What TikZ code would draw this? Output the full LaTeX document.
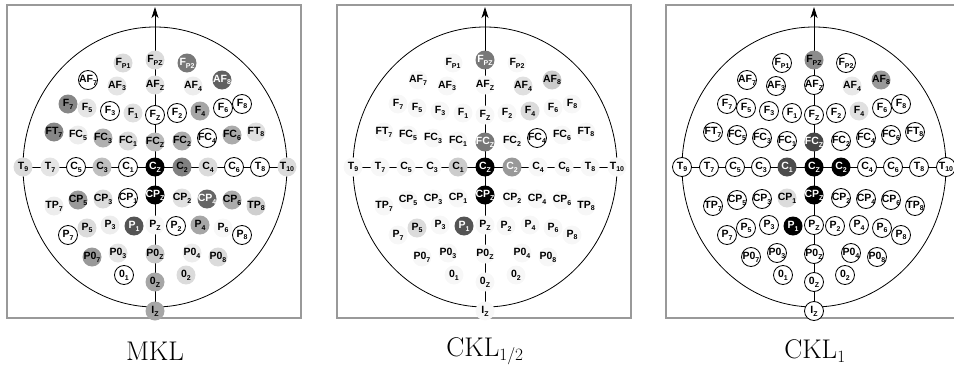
\documentclass[tikz,border=0pt]{standalone}
\usepackage{fontspec}
\newfontfamily\elfont{Liberation Sans}
\usetikzlibrary{arrows.meta,backgrounds}
\newcommand\elab[2]{\makebox[0pt]{#1\raisebox{-2.8pt}{\fontsize{7}{7}\selectfont #2}}}
\newcommand\ellist{FP1/-32/104/F/P1, FPZ/0/107/F/PZ, FP2/32/104/F/P2,
 AF7/-67/87/AF/7, AF3/-38/81/AF/3, AFZ/0/82/AF/Z, AF4/38/81/AF/4, AF8/67/87/AF/8,
 F7/-87/63/F/7, F5/-68/59/F/5, F3/-45/56/F/3, F1/-22/54/F/1, FZ/0/52/F/Z, F2/22/54/F/2, F4/45/56/F/4, F6/68/59/F/6, F8/87/63/F/8,
 FT7/-101/35/FT/7, FC5/-77/32/FC/5, FC3/-52/29/FC/3, FC1/-27/26/FC/1, FCZ/0/25/FC/Z, FC2/27/26/FC/2, FC4/52/29/FC/4, FC6/77/32/FC/6, FT8/101/35/FT/8,
 T9/-132/0/T/9, T7/-105/0/T/7, C5/-79/0/C/5, C3/-53/0/C/3, C1/-27/0/C/1, CZ/0/0/C/Z, C2/27/0/C/2, C4/53/0/C/4, C6/79/0/C/6, T8/105/0/T/8, T10/132/0/T/10,
 TP7/-101/-39/TP/7, CP5/-77/-33/CP/5, CP3/-52/-32/CP/3, CP1/-27/-31/CP/1, CPZ/0/-28/CP/Z, CP2/27/-31/CP/2, CP4/52/-32/CP/4, CP6/77/-33/CP/6, TP8/101/-39/TP/8,
 P7/-87/-68/P/7, P5/-68/-61/P/5, P3/-45/-58/P/3, P1/-21/-59/P/1, PZ/0/-58/P/Z, P2/21/-59/P/2, P4/45/-58/P/4, P6/68/-61/P/6, P8/87/-68/P/8,
 PO7/-63/-90/P0/7, PO3/-37/-86/P0/3, POZ/0/-87/P0/Z, PO4/37/-86/P0/4, PO8/63/-90/P0/8,
 O1/-31/-108/0/1, OZ/0/-115/0/Z, O2/31/-108/0/2, IZ/0/-144/I/Z}
\tikzset{
  elec/.style={circle, inner sep=0pt, minimum size=19pt, text=black,
    font=\elfont\bfseries\fontsize{10.5}{10.5}\selectfont},
  faint/.style={fill=black!3, draw=none},
  outl/.style={fill=white, draw=black, line width=0.8pt},
  fl/.style={fill=#1, draw=none, text=black},
  fd/.style={fill=#1, draw=none, text=white},
  conn/.style={line width=0.8pt, black},
  panelbox/.style={draw=black!40, line width=1.3pt},
  headline/.style={draw=black, line width=0.8pt},
  caption/.style={font=\fontsize{27}{27}\selectfont, inner sep=0pt},
  % MKL
  A-FP1/.style={fl=black!14}, A-FPZ/.style={fl=black!14}, A-FP2/.style={fd=black!53},
  A-AF7/.style={outl}, A-AF3/.style={fl=black!10}, A-AFZ/.style={fl=black!12}, A-AF4/.style={fl=black!7}, A-AF8/.style={fd=black!62},
  A-F7/.style={fl=black!47}, A-F5/.style={fl=black!10}, A-F3/.style={outl}, A-F1/.style={fl=black!12}, A-FZ/.style={outl},
  A-F2/.style={outl}, A-F4/.style={fl=black!35}, A-F6/.style={outl}, A-F8/.style={outl},
  A-FT7/.style={fl=black!47}, A-FC5/.style={fl=black!7}, A-FC3/.style={fl=black!31}, A-FC1/.style={fl=black!14},
  A-FCZ/.style={fl=black!27}, A-FC2/.style={fl=black!33}, A-FC4/.style={outl}, A-FC6/.style={fl=black!33}, A-FT8/.style={fl=black!12},
  A-T9/.style={fl=black!14}, A-T7/.style={fl=black!10}, A-C5/.style={outl}, A-C3/.style={fl=black!25}, A-C1/.style={outl},
  A-CZ/.style={fd=black}, A-C2/.style={fl=black!50}, A-C4/.style={fl=black!14}, A-C6/.style={outl}, A-T8/.style={outl}, A-T10/.style={fl=black!14},
  A-TP7/.style={fl=black!7}, A-CP5/.style={fl=black!40}, A-CP3/.style={fl=black!14}, A-CP1/.style={outl}, A-CPZ/.style={fd=black},
  A-CP2/.style={fl=black!12}, A-CP4/.style={fd=black!60}, A-CP6/.style={fl=black!33}, A-TP8/.style={fl=black!19},
  A-P7/.style={outl}, A-P5/.style={fl=black!14}, A-P3/.style={fl=black!7}, A-P1/.style={fd=black!67}, A-PZ/.style={faint},
  A-P2/.style={outl}, A-P4/.style={fl=black!35}, A-P6/.style={faint}, A-P8/.style={outl},
  A-PO7/.style={fl=black!40}, A-PO3/.style={fl=black!10}, A-POZ/.style={fl=black!22}, A-PO4/.style={fl=black!7}, A-PO8/.style={fl=black!14},
  A-O1/.style={outl}, A-OZ/.style={fl=black!35}, A-O2/.style={fl=black!14}, A-IZ/.style={fl=black!35},
  % CKL 1/2
  B-FPZ/.style={fd=black!53}, B-AF4/.style={fl=black!12}, B-AF8/.style={fl=black!20}, B-F4/.style={fl=black!14},
  B-FC4/.style={outl}, B-FCZ/.style={fd=black!53}, B-C1/.style={fl=black!20}, B-CZ/.style={fd=black},
  B-C2/.style={fd=black!40}, B-CPZ/.style={fd=black}, B-P1/.style={fd=black!67}, B-P5/.style={fl=black!14},
  % CKL 1
  C-FPZ/.style={fl=black!45}, C-AF4/.style={fl=black!9}, C-AF8/.style={fl=black!40}, C-F4/.style={fl=black!12},
  C-FCZ/.style={fd=black!73}, C-C1/.style={fd=black!70}, C-CZ/.style={fd=black}, C-C2/.style={fd=black},
  C-CP1/.style={fl=black!14}, C-CPZ/.style={fd=black}, C-P1/.style={fd=black},
}
\newcommand\drawpanel[3]{%
  \draw[panelbox] ({#2-148},5) rectangle ({#2+146},318);
  \foreach \nm/\xx/\yy/\ma/\su in \ellist {
    \node[elec, #3, #1-\nm/.try] (#1-\nm) at ({#2+\xx},{167-\yy}) {\elab{\ma}{\su}};
  }
  \coordinate (#1-top) at (#2,7);
  \begin{pgfonlayer}{background}
    \draw[headline] (#2,167) ellipse [x radius=132pt, y radius=140pt];
    \draw[conn] (#1-T9.center) -- (#1-T10.center);
    \draw[conn, -{Stealth[length=11pt, width=7pt, inset=3pt]}] (#1-IZ.center) -- (#1-top);
  \end{pgfonlayer}
}
\begin{document}
\begin{tikzpicture}[x=1pt, y=-1pt]
  \useasboundingbox (0,0) rectangle (954,380);
  \drawpanel{A}{155}{faint}
  \drawpanel{B}{485}{faint}
  \drawpanel{C}{814}{outl}
  \node[caption] (capA) at (155,351) {MKL};
  \node[caption] (capB) at (485,351) {CKL$_{1/2}$};
  \node[caption] (capC) at (815,351) {CKL$_1$};
\end{tikzpicture}
\end{document}
